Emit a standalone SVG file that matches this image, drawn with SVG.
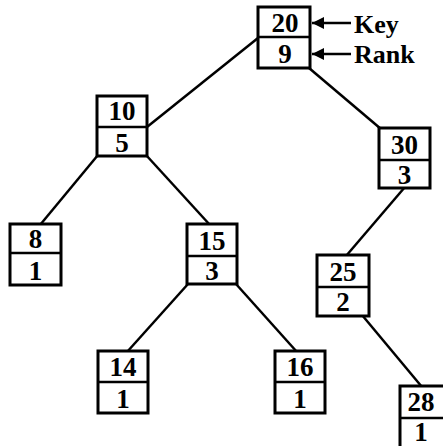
<svg xmlns="http://www.w3.org/2000/svg" width="443" height="446" viewBox="0 0 443 446">
<defs>
<style>
.box{fill:#fff;stroke:#000;stroke-width:3}
.div{stroke:#000;stroke-width:2.5}
.t{font-family:"Liberation Serif","Times New Roman",serif;font-size:27px;font-weight:bold;text-anchor:middle;fill:#000}
.lbl{font-family:"Liberation Serif","Times New Roman",serif;font-size:26px;font-weight:bold;fill:#000}
.edge{stroke:#000;stroke-width:2.5;fill:none}
</style>
<marker id="ah" viewBox="0 0 12 12" refX="12" refY="6" markerWidth="12" markerHeight="12" markerUnits="userSpaceOnUse" orient="auto">
<path d="M0,0 L12,6 L0,12 z" fill="#000"/>
</marker>
</defs>
<rect width="443" height="446" fill="#fff"/>
<g id="connectors">
<line class="edge" x1="258" y1="38" x2="147" y2="127"/>
<line class="edge" x1="309" y1="68" x2="381" y2="129"/>
<line class="edge" x1="98" y1="155" x2="40" y2="225"/>
<line class="edge" x1="146" y1="155" x2="210" y2="225"/>
<line class="edge" x1="405" y1="187" x2="346" y2="256"/>
<line class="edge" x1="188" y1="284" x2="127" y2="352"/>
<line class="edge" x1="236" y1="284" x2="297" y2="352"/>
<line class="edge" x1="362" y1="315" x2="422" y2="387"/>
<line class="edge" x1="351" y1="23" x2="312" y2="23" marker-end="url(#ah)"/>
<line class="edge" x1="351" y1="54" x2="312" y2="54" marker-end="url(#ah)"/>
</g>
<g id="labels">
<text class="lbl" x="354" y="33">Key</text>
<text class="lbl" x="354" y="63">Rank</text>
</g>
<g id="n20">
<rect class="box" x="258" y="7" width="52" height="61"/>
<line class="div" x1="258" y1="37" x2="310" y2="37"/>
<text class="t" x="285" y="32">20</text>
<text class="t" x="285" y="63">9</text>
</g>
<g id="n10">
<rect class="box" x="97" y="96" width="50" height="60"/>
<line class="div" x1="97" y1="127" x2="147" y2="127"/>
<text class="t" x="122" y="120">10</text>
<text class="t" x="122" y="152">5</text>
</g>
<g id="n30">
<rect class="box" x="379" y="128" width="51" height="60"/>
<line class="div" x1="379" y1="160" x2="430" y2="160"/>
<text class="t" x="404.5" y="154">30</text>
<text class="t" x="404.5" y="184">3</text>
</g>
<g id="n8">
<rect class="box" x="10" y="224" width="51" height="61"/>
<line class="div" x1="10" y1="253" x2="61" y2="253"/>
<text class="t" x="35.5" y="248">8</text>
<text class="t" x="35.5" y="280">1</text>
</g>
<g id="n15">
<rect class="box" x="187" y="224" width="50" height="60"/>
<line class="div" x1="187" y1="256" x2="237" y2="256"/>
<text class="t" x="212" y="250">15</text>
<text class="t" x="212" y="280">3</text>
</g>
<g id="n25">
<rect class="box" x="317" y="255" width="52" height="61"/>
<line class="div" x1="317" y1="287" x2="369" y2="287"/>
<text class="t" x="343" y="281">25</text>
<text class="t" x="343" y="311">2</text>
</g>
<g id="n14">
<rect class="box" x="98" y="351" width="50" height="62"/>
<line class="div" x1="98" y1="382" x2="148" y2="382"/>
<text class="t" x="123" y="376">14</text>
<text class="t" x="123" y="408">1</text>
</g>
<g id="n16">
<rect class="box" x="275" y="351" width="50" height="62"/>
<line class="div" x1="275" y1="382" x2="325" y2="382"/>
<text class="t" x="300" y="376">16</text>
<text class="t" x="300" y="408">1</text>
</g>
<g id="n28">
<rect class="box" x="400" y="386" width="50" height="62"/>
<line class="div" x1="400" y1="418" x2="450" y2="418"/>
<text class="t" x="421" y="411">28</text>
<text class="t" x="421" y="441">1</text>
</g>
</svg>
